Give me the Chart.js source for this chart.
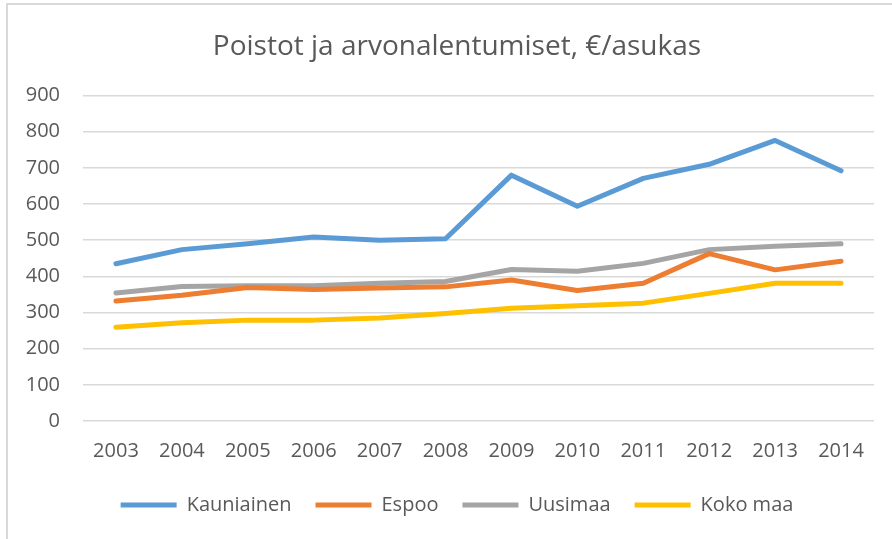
<!DOCTYPE html>
<html lang="fi">
<head>
<meta charset="utf-8">
<script src="https://cdn.jsdelivr.net/npm/chart.js"></script>
<title>Poistot ja arvonalentumiset</title>
<style>
  html, body { margin: 0; padding: 0; background: #fff; overflow: hidden; }
  #wrap {
    position: absolute; left: 6px; top: 3px;
    width: 886px; height: 536px;
    border-left: 2px solid #d9d9d9; border-top: 2px solid #d9d9d9;
  }
  /* the chart frame runs on past the right edge of the picture */
  #box { position: absolute; left: -8px; top: -5px; width: 934px; height: 539px; }
</style>
</head>
<body>
<div id="wrap"><div id="box"><canvas id="chart"></canvas></div></div>
<script>
const years = ['2003', '2004', '2005', '2006', '2007', '2008', '2009', '2010', '2011', '2012', '2013', '2014'];
const kauniainen = [435, 474, 490, 509, 500, 504, 680, 594, 671, 710, 776, 692];
const espoo = [332, 348, 369, 364, 368, 371, 390, 361, 381, 463, 418, 442];
const uusimaa = [354, 372, 374, 374, 381, 386, 419, 414, 436, 474, 483, 490];
const kokoMaa = [259, 272, 279, 279, 285, 297, 312, 319, 326, 353, 381, 381];
const yTicks = [0, 100, 200, 300, 400, 500, 600, 700, 800, 900];

const textColor = '#595959';
const font = 'Open Sans';

function line(label, data, color) {
  return {
    label: label,
    data: data,
    borderColor: color,
    backgroundColor: color,
    borderWidth: 5,
    borderCapStyle: 'round',
    borderJoinStyle: 'round',
    pointRadius: 0,
    pointHoverRadius: 0,
    tension: 0,
    fill: false
  };
}

new Chart(document.getElementById('chart'), {
  type: 'line',
  data: {
    labels: years,
    datasets: [
      line('Kauniainen', kauniainen, '#5b9bd5'),
      line('Espoo', espoo, '#ed7d31'),
      line('Uusimaa', uusimaa, '#a5a5a5'),
      line('Koko maa', kokoMaa, '#ffc000')
    ]
  },
  options: {
    responsive: true,
    maintainAspectRatio: false,
    animation: false,
    layout: { padding: { left: 0, right: 20, top: 0, bottom: 14 } },
    plugins: {
      title: {
        display: true,
        text: 'Poistot ja arvonalentumiset, €/asukas',
        color: textColor,
        font: { family: font, size: 28, weight: 'normal' },
        padding: { top: 30, bottom: 32 }
      },
      legend: {
        position: 'bottom',
        labels: {
          color: textColor,
          font: { family: font, size: 20 },
          usePointStyle: true,
          pointStyle: 'line',
          pointStyleWidth: 56,
          padding: 24
        }
      },
      tooltip: { enabled: false }
    },
    scales: {
      x: {
        offset: true,
        grid: { display: false, drawTicks: false },
        border: { display: false },
        ticks: { color: textColor, font: { family: font, size: 20 }, padding: 18, maxRotation: 0 },
        afterFit: (axis) => { axis.height -= 10; }
      },
      y: {
        min: 0,
        max: 900,
        afterBuildTicks: (axis) => { axis.ticks = yTicks.map(v => ({ value: v })); },
        afterFit: (axis) => { axis.width = 83; },
        grid: { color: '#d9d9d9', lineWidth: 1.5, drawTicks: false },
        border: { display: false },
        ticks: { color: textColor, font: { family: font, size: 20 }, padding: 23 }
      },
      // empty right-hand strip, keeps the plot ending where the reference ends
      pad: {
        type: 'linear',
        position: 'right',
        grid: { display: false },
        border: { display: false },
        ticks: { display: false },
        afterFit: (axis) => { axis.width = 40; }
      }
    }
  }
});
</script>
</body>
</html>
